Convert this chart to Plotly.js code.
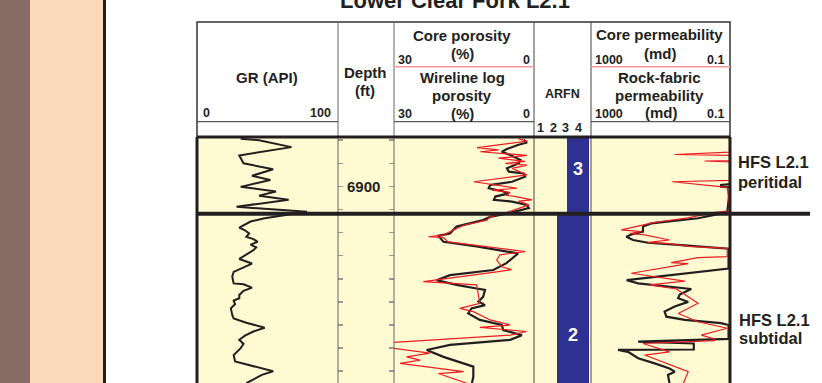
<!DOCTYPE html>
<html><head><meta charset="utf-8">
<script src="https://cdn.plot.ly/plotly-3.0.1.min.js"></script>
<style>html,body{margin:0;padding:0;background:#fff;overflow:hidden}#chart{width:822px;height:383px}</style>
</head><body><div id="chart"></div>
<script>
// ---------------- data ----------------
const grDepth = [6889.7,6890.0,6891.5,6893.3,6895.0,6896.3,6897.7,6898.6,6900.1,6901.1,6902.0,6902.9,6904.4,6905.5,
  6906.9,6907.6,6908.9,6909.5,6910.2,6910.9,6911.4,6912.0,6912.6,6913.2,6913.8,6914.8,6915.7,6916.7,6917.5,6918.5,6919.5,
  6921.0,6921.2,6921.9,6922.6,6923.5,6924.2,6924.7,6925.5,6926.4,6927.8,6928.6,6929.5,6930.6,6931.4,6932.3,6933.2,6934.1,
  6935.0,6936.5,6937.9,6938.9,6940.0,6940.8,6942.6];
const grValue = [31,44,67,30,33,54,39,52,31,56,44,65,28,78,
  48,38,30,34,37,35,40,43,38,42,40,35,30,39,33,26,25,
  26,33,39,33,30,30,26,27,24,25,26,35,48,40,34,30,33,
  31,26,27,40,54,46,35];

const phiLogDepth = [6889.9,6890.5,6891.0,6891.9,6892.5,6893.2,6894.3,6895.0,6896.1,6896.8,6897.2,6897.9,6899.0,6899.7,
  6900.4,6901.0,6901.5,6902.2,6902.9,6903.3,6904.0,6904.7,6905.8,6906.6,6907.3,6908.7,6910.2,6910.7,6912.0,6913.0,6914.5,
  6916.6,6918.1,6919.2,6920.3,6921.3,6922.1,6922.4,6923.9,6924.9,6925.7,6926.4,6927.5,6928.9,6930.0,6931.1,6932.2,6933.2,
  6934.3,6935.4,6936.9,6938.3,6939.0,6941.2,6942.6];
const phiLogValue = [2.2,1.5,3.3,5.8,6.9,5.1,2.9,3.3,5.8,5.4,2.2,1.9,4.7,9.4,
  9.7,6.9,5.4,8.3,8.6,4.7,1.5,1.1,5.4,9.4,10.9,16.6,18.0,20.5,19.4,12.3,3.4,
  5.9,8.7,18.0,20.9,16.6,12.3,10.5,10.9,11.9,10.5,13.4,14.1,11.6,6.9,6.6,2.6,5.1,
  18.0,23.0,19.4,15.1,13.0,13.0,13.3];

const phiCoreDepth = [6889.7,6890.2,6891.6,6892.1,6892.5,6893.3,6893.9,6894.6,6895.0,6895.4,6896.1,6897.5,6899.0,6900.4,
  6900.8,6901.3,6901.9,6902.2,6902.9,6903.2,6904.0,6905.5,6906.6,6907.3,6908.4,6909.1,6910.5,6910.9,6911.1,6912.0,6914.1,
  6914.8,6915.9,6917.4,6918.0,6918.5,6920.3,6920.6,6921.3,6925.3,6926.4,6927.1,6928.9,6930.0,6930.5,6931.4,6932.2,6933.8,
  6935.0,6936.1,6936.9,6937.6,6938.3,6940.1,6940.5,6942.6];
const phiCoreValue = [3.3,1.5,12.2,7.6,11.5,1.5,7.6,1.9,6.1,1.5,4.7,1.5,12.9,3.6,
  9.0,5.1,6.1,3.9,0.4,3.3,1.1,5.4,9.4,10.1,15.1,16.6,19.4,22.6,19.4,18.4,1.9,
  7.3,8.0,6.9,4.8,8.0,20.5,23.7,12.3,11.6,15.9,13.0,9.4,5.1,11.6,1.6,5.1,30.5,
  30.5,22.3,27.3,24.4,28.7,15.1,20.5,14.4];

const permRfDepth = [6889.3,6899.5,6899.7,6900.05,6900.2,6905.6,6906.9,6907.5,6908.0,6908.7,6909.8,6910.4,6910.9,6911.6,
  6912.2,6912.7,6913.5,6917.8,6920.3,6921.0,6922.2,6923.4,6924.2,6925.0,6926.0,6927.1,6928.2,6928.9,6929.6,6930.0,6933.0,
  6933.6,6934.0,6935.3,6935.4,6935.8,6937.2,6938.3,6939.4,6940.1,6940.8,6942.6];
const permRfValue = [0.1,0.1,0.18,0.18,0.1,0.12,0.83,4.9,18.4,31.9,31.9,69,96,62,
  22.9,2.5,0.11,0.11,94,44,1.3,2.8,3.1,1.6,3.9,7.6,6.8,2.0,0.18,0.11,0.11,
  44,1.1,1.1,167,86,44,14.7,5.5,3.9,6.1,5.5];

const permCoreDepth = [6889.7,6892.6,6893.1,6893.3,6894.4,6894.5,6894.7,6898.7,6899.0,6900.2,6905.3,6905.6,6906.8,6907.8,
  6909.4,6909.8,6910.2,6910.5,6911.6,6912.1,6912.4,6913.0,6913.4,6915.2,6915.4,6916.5,6916.7,6918.8,6920.5,6921.3,6922.2,
  6925.3,6927.5,6929.3,6930.7,6932.2,6933.0,6933.4,6934.0,6935.8,6936.5,6940.1,6942.6];
const permCoreValue = [0.1,0.1,3.9,0.1,0.1,0.54,0.1,0.1,4.6,0.12,0.1,0.28,1.6,14.7,
  134,35.6,77,28.6,5.5,22.9,5.5,1.6,0.12,0.12,0.83,4.9,1.6,69,2.0,20.5,3.5,
  0.83,3.1,0.83,0.12,0.67,0.28,0.28,31.9,5.5,28.6,1.6,2.2];

const arfnValue = [3, 2];
const arfnTop = [6886.6, 6905.9];
const arfnBase = [6905.9, 6958.5];
const arfnLabel = ['3', '2'];
const arfnScaleLabels = ['1', '2', '3', '4'];

const hfsDepth = 6905.9;
const hfsNames = [['HFS L2.1', 'peritidal'], ['HFS L2.1', 'subtidal']];

const depthTicks = [6890,6895,6900,6905,6910,6915,6920,6925,6930,6935,6940];
const depthTickText = ['','','6900','','','','','','','',''];

// ---------------- layout helpers ----------------
const W = 822, H = 383;
const px = x => x / W;
const py = y => 1 - y / H;
const INK = '#231f20';
const RED = '#ed1c24';
const FONT = 'Liberation Sans, Arial, Helvetica, sans-serif';
const ARFN_RIGHT = 5.2;

const traces = [
  {type:'scatter', mode:'lines', x:grValue, y:grDepth, xaxis:'x', yaxis:'y',
   line:{color:INK, width:2}, hoverinfo:'skip'},
  {type:'scatter', mode:'none', x:[0.5], y:[6900], xaxis:'x2', yaxis:'y', hoverinfo:'skip'},
  {type:'scatter', mode:'lines', x:phiLogValue, y:phiLogDepth, xaxis:'x3', yaxis:'y',
   line:{color:INK, width:2.2}, hoverinfo:'skip'},
  {type:'scatter', mode:'lines', x:phiCoreValue, y:phiCoreDepth, xaxis:'x3', yaxis:'y',
   line:{color:RED, width:1.2}, hoverinfo:'skip'},
  {type:'bar', orientation:'h', xaxis:'x4', yaxis:'y',
   y: arfnTop.map((t,i)=> (t + arfnBase[i]) / 2),
   width: arfnTop.map((t,i)=> arfnBase[i] - t),
   base: arfnValue,
   x: arfnValue.map(v => ARFN_RIGHT - v),
   marker:{color:'#2e3192', line:{width:0}},
   text: arfnLabel, textposition:'inside', insidetextanchor:'middle', textangle:0,
   constraintext:'none',
   textfont:{family:FONT, size:18, color:'#ffffff', weight:700}, hoverinfo:'skip'},
  {type:'scatter', mode:'lines', x:permRfValue, y:permRfDepth, xaxis:'x5', yaxis:'y',
   line:{color:INK, width:2.2}, hoverinfo:'skip'},
  {type:'scatter', mode:'lines', x:permCoreValue, y:permCoreDepth, xaxis:'x5', yaxis:'y',
   line:{color:RED, width:1.2}, hoverinfo:'skip'}
];

const xBase = {showgrid:false, zeroline:false, showticklabels:false, ticks:'', showline:false, fixedrange:true, anchor:'y'};
const layout = {
  width: W, height: H,
  margin:{l:0, r:0, t:0, b:0, pad:0},
  paper_bgcolor:'#ffffff', plot_bgcolor:'rgba(0,0,0,0)',
  showlegend:false,
  font:{family:FONT, color:INK},
  title:{text:'Lower Clear Fork L2.1', x:455/W, xanchor:'center', y:1.0, yanchor:'middle',
         font:{family:FONT, size:22, color:INK, weight:700}},
  bargap:0,
  xaxis: Object.assign({}, xBase, {domain:[px(197), px(338)], range:[0,100]}),
  xaxis2: Object.assign({}, xBase, {domain:[px(338), px(394)], range:[0,1]}),
  xaxis3: Object.assign({}, xBase, {domain:[px(394), px(534)], range:[30,0]}),
  xaxis4: Object.assign({}, xBase, {domain:[px(534), px(591)], range:[-0.3,5.4]}),
  xaxis5: Object.assign({}, xBase, {domain:[px(591), px(730)], type:'log', range:[3,-1]}),
  yaxis: {domain:[0, py(137)], range:[6942.55, 6889.31], anchor:'x2', side:'left',
    showgrid:false, zeroline:false, showline:false, mirror:'ticks',
    ticks:'inside', ticklen:5, tickwidth:1.5, tickcolor:'#9a9a9a',
    tickvals: depthTicks, ticktext: depthTickText, ticklabelposition:'inside',
    ticklabelstandoff:4,
    tickfont:{family:FONT, size:15, color:INK, weight:700}, fixedrange:true},
  shapes: [], annotations: []
};

const S = layout.shapes, A = layout.annotations;
function rect(x0,y0,x1,y1,fill,layer){S.push({type:'rect',xref:'paper',yref:'paper',x0:px(x0),x1:px(x1),y0:py(y1),y1:py(y0),fillcolor:fill,line:{width:0},layer:layer||'below'});}
function line(x0,y0,x1,y1,color,w){S.push({type:'line',xref:'paper',yref:'paper',x0:px(x0),x1:px(x1),y0:py(y0),y1:py(y1),line:{color:color,width:w},layer:'above'});}
function txt(t,x,y,size,anchor,color){A.push({text:t,xref:'paper',yref:'paper',x:px(x),y:py(y),xanchor:anchor||'center',yanchor:'middle',showarrow:false,font:{family:FONT,size:size,color:color||INK,weight:700}});}

// side strips
rect(0,0,30,H,'#876b65');
rect(30,0,103,H,'#fdd9bc');
rect(103,0,106,H,INK);
// data background
rect(197,137,730,H,'#fffad2');
// header box
S.push({type:'rect',xref:'paper',yref:'paper',x0:px(197),x1:px(730),y0:py(137),y1:py(22),line:{color:'#333',width:1.5},layer:'above'});
// column separators
[338,394].forEach(x=>line(x,22,x,H,'#666',1));
[534,591].forEach(x=>line(x,22,x,H,'#444',1));
// header scale lines
line(197,121.7,338,121.7,'#333',1);
line(394,121.7,534,121.7,'#333',1);
line(591,121.7,730,121.7,'#333',1);
line(394,66.7,534,66.7,'#f49a9a',1.6);
line(591,66.7,730,66.7,'#f49a9a',1.6);
// thick data borders
line(197,137,730,137,INK,3);
line(197,137,197,H,INK,3);
line(730,137,730,H,INK,3);
// HFS boundary
S.push({type:'line',xref:'paper',yref:'y',x0:px(197),x1:px(810),y0:hfsDepth,y1:hfsDepth,line:{color:INK,width:4},layer:'above'});

// header texts
txt('GR (API)',267,77,15);
txt('0',201,113,12.5,'left');
txt('100',333,113,12.5,'right');
txt('Depth',365,72.5,15);
txt('(ft)',365,90,15);
txt('Core porosity',462,35.5,15);
txt('(%)',462,53,15);
txt('30',396,60,12.5,'left');
txt('0',532,60,12.5,'right');
txt('Wireline log',462,77.5,15);
txt('porosity',462,95,15);
txt('(%)',462,113,15);
txt('30',396,114,12.5,'left');
txt('0',532,114,12.5,'right');
txt('ARFN',562,94,12.5);
[540,553,565,578].forEach((x,i)=>txt(arfnScaleLabels[i],x,127.5,12.5));
txt('Core permeability',659,34.5,15);
txt('(md)',660,53,15);
txt('1000',593,60.5,12.5,'left');
txt('0.1',726,60.5,12.5,'right');
txt('Rock-fabric',659,77.5,15);
txt('permeability',659,95,15);
txt('(md)',661,112.5,15);
txt('1000',593,113.5,12.5,'left');
txt('0.1',726,114,12.5,'right');
// HFS labels
txt(hfsNames[0][0],736,161.7,16.5,'left');
txt(hfsNames[0][1],736,181.7,16.5,'left');
txt(hfsNames[1][0],737,320,16.5,'left');
txt(hfsNames[1][1],737,338,16.5,'left');

Plotly.newPlot('chart', traces, layout, {staticPlot:true, displayModeBar:false});
</script></body></html>
